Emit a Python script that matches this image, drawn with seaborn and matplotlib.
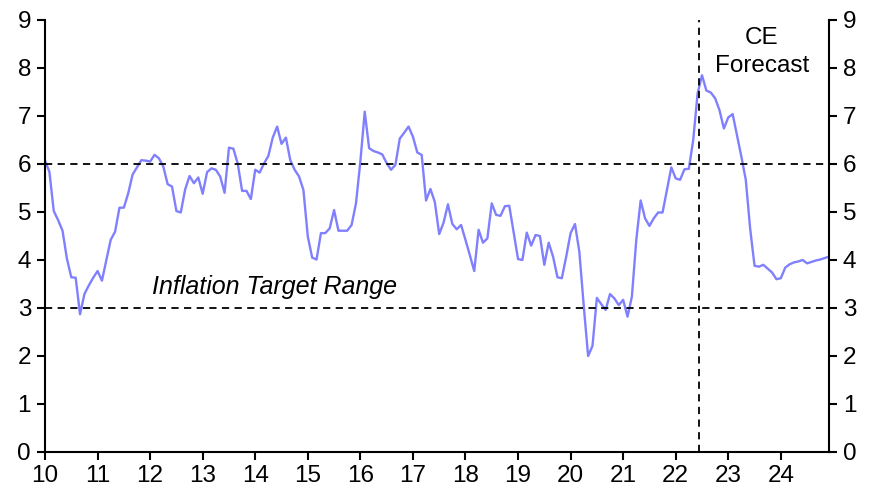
import numpy as np
import pandas as pd
import matplotlib
matplotlib.use("Agg")
import matplotlib.pyplot as plt
import seaborn as sns

# Monthly CPI inflation (% y/y), Jan 2010 - Dec 2024 (forecast from mid-2022)
values_2010_2014 = [
    6.07, 5.84, 5.02, 4.83, 4.61, 4.03, 3.64, 3.63, 2.87, 3.29, 3.47, 3.63,
    3.77, 3.57, 4.00, 4.42, 4.59, 5.09, 5.09, 5.39, 5.78, 5.93, 6.08, 6.07,
    6.05, 6.19, 6.12, 5.95, 5.58, 5.53, 5.02, 4.99, 5.47, 5.75, 5.60, 5.72,
    5.38, 5.83, 5.91, 5.88, 5.74, 5.40, 6.34, 6.32, 6.01, 5.44, 5.44, 5.27,
    5.88, 5.82, 6.01, 6.17, 6.55, 6.78, 6.42, 6.55, 6.08, 5.88, 5.74, 5.46,
]
values_2015_2019 = [
    4.49, 4.05, 4.01, 4.56, 4.56, 4.66, 5.04, 4.61, 4.61, 4.61, 4.73, 5.18,
    6.05, 7.09, 6.33, 6.27, 6.24, 6.20, 6.02, 5.88, 5.98, 6.53, 6.65, 6.78,
    6.57, 6.24, 6.19, 5.24, 5.48, 5.21, 4.54, 4.78, 5.16, 4.75, 4.64, 4.73,
    4.42, 4.10, 3.77, 4.63, 4.36, 4.45, 5.18, 4.94, 4.92, 5.12, 5.13, 4.57,
    4.02, 4.00, 4.57, 4.30, 4.52, 4.50, 3.90, 4.36, 4.07, 3.64, 3.62, 4.07,
]
values_2020_2024 = [
    4.56, 4.75, 4.17, 3.05, 2.00, 2.21, 3.21, 3.08, 2.96, 3.29, 3.20, 3.06,
    3.17, 2.82, 3.24, 4.42, 5.24, 4.87, 4.71, 4.87, 4.99, 4.99, 5.46, 5.93,
    5.70, 5.67, 5.89, 5.90, 6.50, 7.47, 7.85, 7.53, 7.49, 7.37, 7.12, 6.74,
    6.97, 7.04, 6.60, 6.15, 5.67, 4.65, 3.88, 3.86, 3.90, 3.82, 3.74, 3.60,
    3.62, 3.84, 3.91, 3.95, 3.97, 4.00, 3.93, 3.96, 3.99, 4.01, 4.04, 4.07,
]
inflation = values_2010_2014 + values_2015_2019 + values_2020_2024
start_year = 2010
year_ticks = list(range(2010, 2025))
year_labels = [str(y)[2:] for y in year_ticks]
y_ticks = list(range(0, 10))
target_low, target_high = 3, 6
forecast_start = 2010 + 149.4 / 12

dates = [start_year + i / 12 for i in range(len(inflation))]
df = pd.DataFrame({"date": dates, "inflation": inflation})

sns.set_theme(style="white")
plt.rcParams["font.family"] = ["Liberation Sans", "DejaVu Sans"]

fig = plt.figure(figsize=(8.83, 4.95), dpi=100)
ax = fig.add_axes([45 / 883, 43 / 495, (829 - 45) / 883, (452 - 20) / 495])

sns.lineplot(data=df, x="date", y="inflation", ax=ax, color="#8080ff", linewidth=1.7)

ax.axhline(target_high, color="black", linestyle=(0, (4, 3)), linewidth=1.3)
ax.axhline(target_low, color="black", linestyle=(0, (4, 3)), linewidth=1.3)
ax.axvline(forecast_start, color="black", linestyle=(0, (4, 3)), linewidth=1.3)

ax.set_xlim(dates[0], dates[-1])
ax.set_ylim(0, 9)
ax.set_xticks(year_ticks)
ax.set_xticklabels(year_labels)
ax.set_yticks(y_ticks)
ax.set_xlabel("")
ax.set_ylabel("")

for s in ["left", "bottom", "right"]:
    ax.spines[s].set_visible(True)
    ax.spines[s].set_color("black")
    ax.spines[s].set_linewidth(1.5)
ax.spines["top"].set_visible(False)

ax.tick_params(axis="both", which="major", direction="out", length=6, width=1.5,
               color="black", labelsize=17.5, labelcolor="black")
ax.tick_params(axis="y", left=True, right=True, labelleft=True, labelright=True, pad=4)
ax.tick_params(axis="x", bottom=True, pad=3)
ax.grid(False)

ax.text(2012.03, 3.44, "Inflation Target Range", fontsize=18, style="italic",
        ha="left", va="center", color="black")
ax.text(2023.64, 8.33, "CE\nForecast", fontsize=17.5, ha="center", va="center",
        color="black", linespacing=1.35)

fig.savefig("out.png", dpi=100)
